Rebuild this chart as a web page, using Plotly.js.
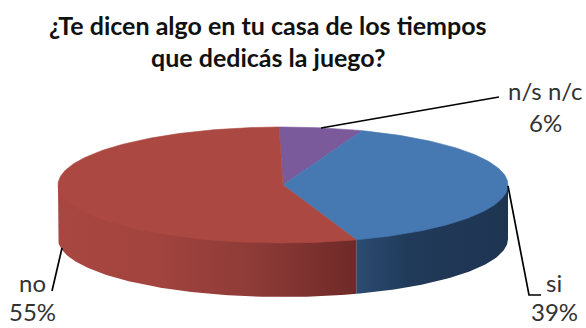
<!DOCTYPE html>
<html>
<head>
<meta charset="utf-8">
<script src="https://cdn.plot.ly/plotly-3.0.1.min.js"></script>
<style>html,body{margin:0;padding:0;background:#fff}#chart{width:586px;height:328px}</style>
</head>
<body>
<div id="chart"></div>
<script>
// Survey answers, listed clockwise from the top of the disc
const categories = ['n/s n/c', 'si', 'no'];
const percents = [6, 39, 55];
const topColors = ['#7a5a9a', '#4679b2', '#ab4842'];

// Wall shading stops, left to right
const wallShades = {
  'si': [[0, '#2c4c72'], [0.35, '#213a59'], [1, '#1e3552']],
  'no': [[0, '#a84641'], [0.3, '#a4443f'], [0.65, '#8e3b37'], [1, '#6e2a28']]
};

// Disc geometry in page pixels (x axis and y axis map 1:1 to the page)
const cx = 283, cy = 185, rx = 225, ry = 58, depth = 54;
const startDeg = 91;

const rad = d => d * Math.PI / 180;
const rimX = (d, inset = 0) => cx + (rx - inset) * Math.cos(rad(d));
const rimY = (d, inset = 0) => cy - (ry - inset) * Math.sin(rad(d));

const traces = [];
let angle = startDeg;
const spans = categories.map((name, i) => {
  const from = angle;
  angle -= percents[i] * 3.6;
  return {name, from, to: angle, color: topColors[i]};
});

// Front wall: the part of each slice below the horizontal diameter.
// Its upper edge is tucked under the top face so no seam shows.
spans.forEach(s => {
  const a = Math.min(s.from, 0);
  const b = Math.max(s.to, -180);
  if (a <= b) return;
  const xs = [], ys = [];
  for (let d = a; d >= b; d -= 1) { xs.push(rimX(d, 2)); ys.push(rimY(d, 2)); }
  xs.push(rimX(b));
  ys.push(rimY(b));
  for (let d = b; d <= a; d += 1) { xs.push(rimX(d)); ys.push(rimY(d) + depth); }
  xs.push(rimX(a), xs[0]);
  ys.push(rimY(a), ys[0]);
  traces.push({
    x: xs, y: ys, mode: 'lines', fill: 'toself', hoverinfo: 'skip',
    line: {width: 0},
    fillgradient: {type: 'horizontal', colorscale: wallShades[s.name]},
    showlegend: false
  });
});

// Top face: one wedge per slice
spans.forEach(s => {
  const xs = [cx], ys = [cy];
  for (let d = s.from; d >= s.to; d -= 1) { xs.push(rimX(d)); ys.push(rimY(d)); }
  xs.push(rimX(s.to), cx);
  ys.push(rimY(s.to), cy);
  traces.push({
    x: xs, y: ys, mode: 'lines', fill: 'toself', fillcolor: s.color,
    line: {width: 0.6, color: s.color}, hoverinfo: 'skip', showlegend: false, name: s.name
  });
});

// Leader lines from the rim to each label
const leaders = [
  {x: [321, 499], y: [128, 97]},
  {x: [508, 529, 541], y: [186, 295, 295]},
  {x: [62, 52], y: [248, 291]}
];
leaders.forEach(l => traces.push({
  x: l.x, y: l.y, mode: 'lines', line: {color: '#000', width: 1.7},
  hoverinfo: 'skip', showlegend: false
}));

const labelFont = {family: 'Lato, sans-serif', size: 24, color: '#333'};
const label = (x, y, text, font) => ({
  x, y, text, xref: 'x', yref: 'y', showarrow: false,
  xanchor: 'center', yanchor: 'middle', font: font || labelFont
});
const titleFont = {family: 'Lato, sans-serif', size: 25, color: '#111', weight: 700};

const layout = {
  width: 586, height: 328,
  margin: {l: 0, r: 0, t: 0, b: 0},
  paper_bgcolor: '#fff', plot_bgcolor: '#fff',
  xaxis: {range: [0, 586], visible: false, fixedrange: true},
  yaxis: {range: [328, 0], visible: false, fixedrange: true},
  annotations: [
    label(268, 25, '¿Te dicen algo en tu casa de los tiempos', titleFont),
    label(268, 57, 'que dedicás la juego?', titleFont),
    label(545, 90, categories[0]),
    label(545, 122, percents[0] + '%'),
    label(554, 282, categories[1]),
    label(554, 311, percents[1] + '%'),
    label(32, 282, categories[2]),
    label(32, 311, percents[2] + '%')
  ]
};

Plotly.newPlot('chart', traces, layout, {displayModeBar: false, staticPlot: true});
</script>
</body>
</html>
